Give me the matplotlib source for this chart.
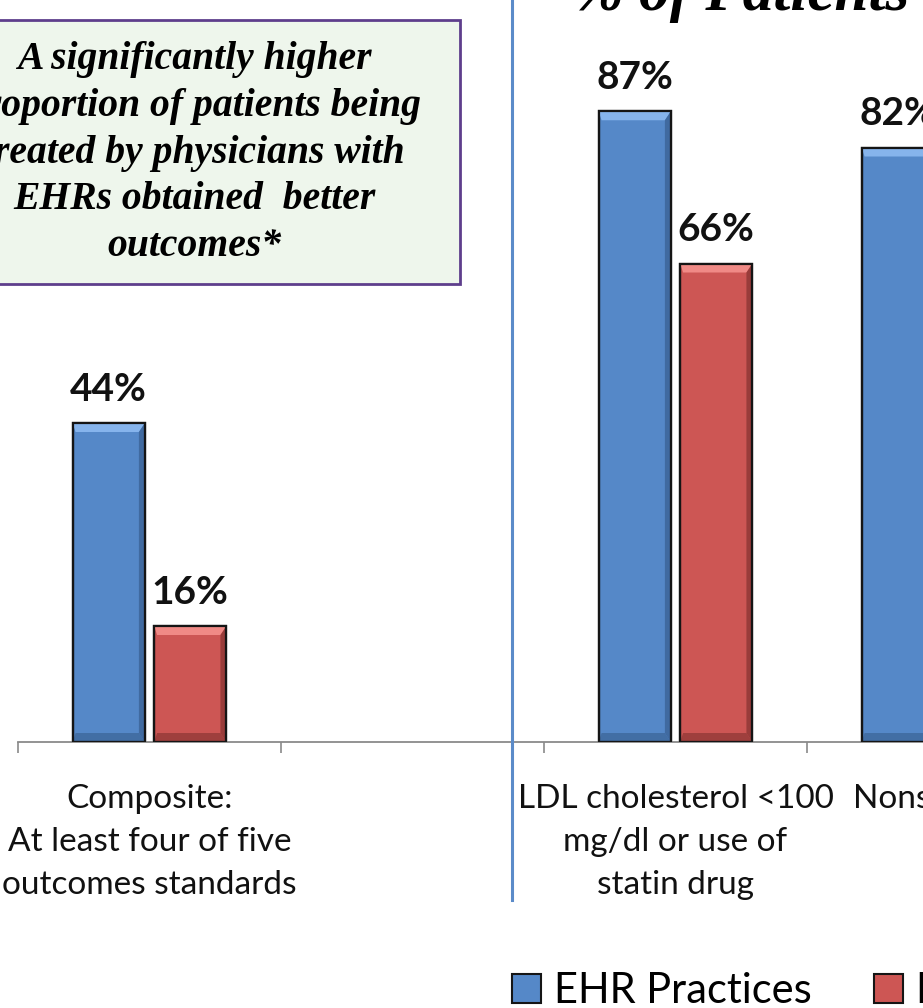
import numpy as np
import matplotlib
matplotlib.use("Agg")
import matplotlib.pyplot as plt
from matplotlib.patches import Rectangle, Polygon, Patch
from matplotlib.lines import Line2D

# outcome categories (second slot is an empty spacer between the panels)
categories = ["Composite:\nAt least four of five\noutcomes standards",
              "",
              "LDL cholesterol <100\nmg/dl or use of\nstatin drug",
              "Nonsmoker"]
ehr_pct = [44, np.nan, 87, 82]
paper_pct = [16, np.nan, 66, np.nan]
series_names = ["EHR Practices", "Paper Practices"]

W, H = 923, 1008
blue, blue_hi, blue_lo = "#5588C8", "#86B4EC", "#3B6396"
red, red_hi, red_lo = "#CD5654", "#F08A86", "#8C3634"
sans = "Lato"
serif = "Liberation Serif"

fig = plt.figure(figsize=(W / 100, H / 100), dpi=100)

# axes placed in pixel terms: baseline at y=742, category boundaries every 263 px;
# the last category runs past the right edge of the figure
base_px = 742
px_per_cat = 263
px_per_pct = 7.25
ncat = len(categories)
ax = fig.add_axes([18 / W, (H - base_px) / H, ncat * px_per_cat / W, base_px / H])

x = np.arange(ncat)
bw, off = 0.275, 0.155
b1 = ax.bar(x - off, ehr_pct, bw, color=blue, edgecolor="#151515", linewidth=1.6, zorder=2)
b2 = ax.bar(x + off, paper_pct, bw, color=red, edgecolor="#151515", linewidth=1.6, zorder=2)

# bevel facets on each bar
dx = 1 / px_per_cat
dy = 1 / px_per_pct


def bevel(bars, hi, lo):
    for p in bars:
        h = p.get_height()
        if not np.isfinite(h):
            continue
        x0, x1 = p.get_x(), p.get_x() + p.get_width()
        y0, y1 = 0, h
        t, r, b, l = 9, 6, 9, 3
        top = [(x0, y1), (x1, y1), (x1 - r * dx, y1 - t * dy), (x0 + l * dx, y1 - t * dy)]
        right = [(x1, y1), (x1, y0), (x1 - r * dx, y0 + b * dy), (x1 - r * dx, y1 - t * dy)]
        bottom = [(x0, y0), (x1, y0), (x1 - r * dx, y0 + b * dy), (x0 + l * dx, y0 + b * dy)]
        ax.add_patch(Polygon(top, closed=True, fc=hi, ec="none", zorder=3))
        ax.add_patch(Polygon(right, closed=True, fc=lo, ec="none", alpha=0.8, zorder=3))
        ax.add_patch(Polygon(bottom, closed=True, fc=lo, ec="none", alpha=0.7, zorder=3))
        ax.add_patch(Rectangle((x0, y0), x1 - x0, h, fc="none", ec="#151515", lw=1.6, zorder=4))


bevel(b1, blue_hi, blue_lo)
bevel(b2, red_hi, red_lo)

# value labels above bars
for bars in (b1, b2):
    for p in bars:
        h = p.get_height()
        if not np.isfinite(h):
            continue
        ax.annotate(f"{h:.0f}%", (p.get_x() + p.get_width() / 2, h),
                    xytext=(0, 16), textcoords="offset points",
                    ha="center", va="baseline", fontsize=28, family=sans,
                    weight="bold", color="#111111")

for s in ("top", "right", "left"):
    ax.spines[s].set_visible(False)
ax.spines["bottom"].set_color("#8A8A8A")
ax.spines["bottom"].set_linewidth(1.3)
ax.set_yticks([])
ax.set_xticks(np.arange(-0.5, ncat, 1.0))
ax.set_xticklabels([])
ax.tick_params(axis="x", which="major", direction="out", length=8, width=1.2, color="#8A8A8A")
ax.set_xticks(x, minor=True)
ax.set_xticklabels(categories, minor=True, fontsize=24, family=sans, color="#111111",
                   linespacing=1.55)
ax.tick_params(axis="x", which="minor", length=0, pad=30)

# limits last, so the tick positions do not change the view
ax.set_xlim(-0.5, ncat - 0.5)
ax.set_ylim(0, base_px / px_per_pct)

# divider line between panels
fig.add_artist(Line2D([512 / W, 512 / W], [(H - 900) / H, 1], color="#5B8BC9", lw=2.2))

# title, mostly above the top edge
fig.text(573 / W, (H - 10) / H, "% of Patients", fontsize=44, family=serif,
         style="italic", weight="bold", ha="left", va="baseline")

# callout box
fig.add_artist(Rectangle((-80 / W, (H - 284) / H), 540 / W, 264 / H,
                         transform=fig.transFigure, fc="#EEF6EC", ec="#5E3E8C", lw=2))
fig.text(194 / W, (H - 153) / H,
         "A significantly higher\nproportion of patients being\ntreated by physicians with\n"
         "EHRs obtained  better\noutcomes*",
         fontsize=28.5, family=serif, style="italic", weight="bold",
         ha="center", va="center", multialignment="center", linespacing=1.34)

# legend
handles = [Patch(fc=blue, ec="#151515", lw=1.5), Patch(fc=red, ec="#151515", lw=1.5)]
fig.legend(handles, series_names, loc="lower left", bbox_to_anchor=(508 / W, -0.006),
           ncol=2, frameon=False, prop={"family": sans, "size": 30},
           handlelength=0.7, handleheight=0.7, handletextpad=0.3,
           columnspacing=1.5, borderpad=0.1, borderaxespad=0.0)

fig.savefig("out.png", dpi=100)
